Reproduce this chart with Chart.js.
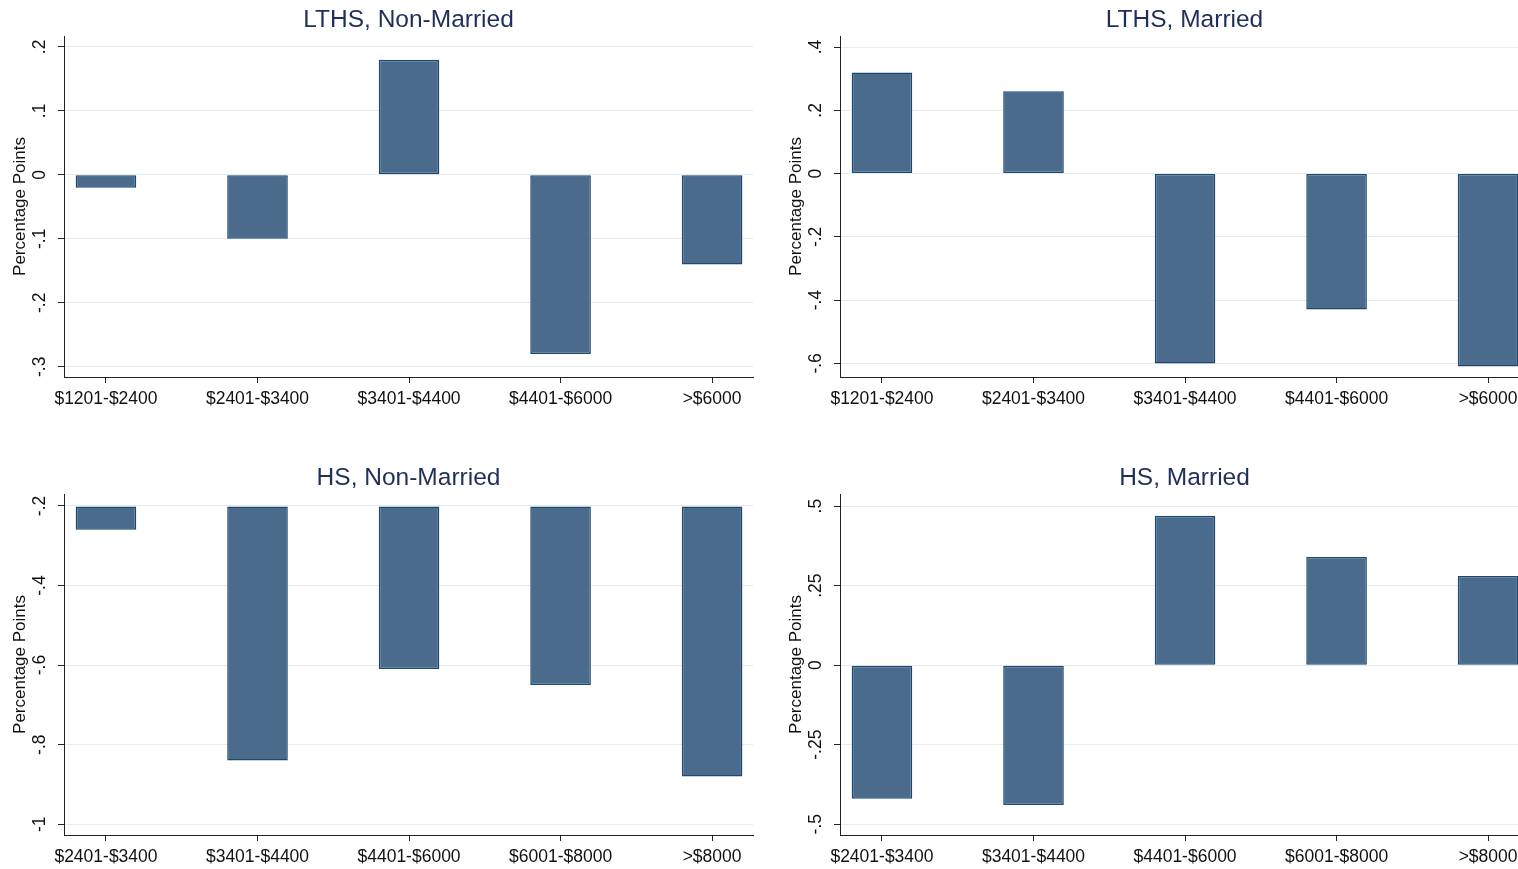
<!DOCTYPE html>
<html>
<head>
<meta charset="utf-8">
<script src="https://cdn.jsdelivr.net/npm/chart.js@4.4.1/dist/chart.umd.min.js"></script>
<style>
    html, body { margin: 0; padding: 0; background: #fff; overflow: hidden; }
    #wrap { position: relative; width: 1518px; height: 869px; overflow: hidden; }
    .panel { position: absolute; width: 760px; height: 420px; }
</style>
</head>
<body>
<div id="wrap">
    <div class="panel" style="left:0;top:0"><canvas id="lthsNM" width="760" height="420"></canvas></div>
    <div class="panel" style="left:776px;top:0"><canvas id="lthsM" width="760" height="420"></canvas></div>
    <div class="panel" style="left:0;top:458px"><canvas id="hsNM" width="760" height="420"></canvas></div>
    <div class="panel" style="left:776px;top:458px"><canvas id="hsM" width="760" height="420"></canvas></div>
</div>
<script>
// categorias de renda
const lthsIncome = ['$1201-$2400', '$2401-$3400', '$3401-$4400', '$4401-$6000', '>$6000'];
const hsIncome = ['$2401-$3400', '$3401-$4400', '$4401-$6000', '$6001-$8000', '>$8000'];

// valores (pontos percentuais)
const lthsNonMarried = [-0.02, -0.10, 0.18, -0.28, -0.14];
const lthsMarried = [0.32, 0.26, -0.60, -0.43, -0.61];
const hsNonMarried = [-0.26, -0.84, -0.61, -0.65, -0.88];
const hsMarried = [-0.42, -0.44, 0.47, 0.34, 0.28];

// ticks do eixo y
const ticksLthsNonMarried = [-0.3, -0.2, -0.1, 0, 0.1, 0.2];
const ticksLthsMarried = [-0.6, -0.4, -0.2, 0, 0.2, 0.4];
const ticksHsNonMarried = [-1, -0.8, -0.6, -0.4, -0.2];
const ticksHsMarried = [-0.5, -0.25, 0, 0.25, 0.5];

const FONT = '"Liberation Sans", Arial, sans-serif';
Chart.defaults.font.family = FONT;

// formato estilo Stata: .2, -.1, 0
const fmt = v => String(+v.toFixed(2)).replace(/^(-?)0\./, '$1.');

const measure = document.createElement('canvas').getContext('2d');
measure.font = '17.5px ' + FONT;
const labelPad = ticks => {
    const widest = Math.max(...ticks.map(v => measure.measureText(fmt(v)).width));
    return 64 - 6 - 40 - widest / 2;
};

function makeChart(id, title, labels, values, ticks, yMin, yMax, base) {
    const ctx = document.getElementById(id).getContext('2d');
    new Chart(ctx, {
        type: 'bar',
        data: {
            datasets: [{
                data: values.map((v, i) => ({ x: i, y: v })),
                base: base,
                backgroundColor: '#4a6b8c',
                borderColor: '#1d4870',
                borderWidth: 1.5,
                borderSkipped: false,
                barPercentage: 0.4,
                categoryPercentage: 1
            }]
        },
        options: {
            responsive: false,
            animation: false,
            layout: { padding: { left: 0, right: 7, top: 0, bottom: 0 } },
            plugins: {
                legend: { display: false },
                tooltip: { enabled: false },
                title: {
                    display: true,
                    text: title,
                    fullSize: false,
                    color: '#1e2f5a',
                    font: { size: 24.5, weight: 'normal' },
                    padding: { top: 5.5, bottom: 1.1 }
                }
            },
            scales: {
                x: {
                    type: 'linear',
                    min: -0.277,
                    max: 4.27,
                    offset: false,
                    afterBuildTicks: s => { s.ticks = labels.map((_, i) => ({ value: i })); },
                    afterFit: s => { s.height = 43; },
                    ticks: {
                        autoSkip: false, maxRotation: 0, padding: 5.5,
                        color: '#111', font: { size: 17.5 },
                        callback: v => labels[v]
                    },
                    grid: { drawOnChartArea: false, offset: false, tickLength: 6, tickColor: '#222' },
                    border: { display: true, color: '#222', width: 1 }
                },
                y: {
                    min: yMin,
                    max: yMax,
                    afterBuildTicks: s => { s.ticks = ticks.map(v => ({ value: v })); },
                    afterFit: s => { s.width = 64; },
                    ticks: {
                        autoSkip: false, minRotation: 90, maxRotation: 90, crossAlign: 'center',
                        padding: labelPad(ticks), color: '#111', font: { size: 17.5 },
                        callback: v => fmt(v)
                    },
                    grid: { color: '#e5ecef', tickLength: 6, tickColor: '#222' },
                    border: { display: true, color: '#222', width: 1 },
                    title: {
                        display: true, text: 'Percentage Points', color: '#111',
                        font: { size: 17 }, padding: { top: 9.8, bottom: 0 }
                    }
                }
            }
        }
    });
}

makeChart('lthsNM', 'LTHS, Non-Married', lthsIncome, lthsNonMarried, ticksLthsNonMarried, -0.316, 0.217, 0);
makeChart('lthsM', 'LTHS, Married', lthsIncome, lthsMarried, ticksLthsMarried, -0.643, 0.435, 0);
makeChart('hsNM', 'HS, Non-Married', hsIncome, hsNonMarried, ticksHsNonMarried, -1.027, -0.170, -0.2);
makeChart('hsM', 'HS, Married', hsIncome, hsMarried, ticksHsMarried, -0.534, 0.538, 0);
</script>
</body>
</html>
